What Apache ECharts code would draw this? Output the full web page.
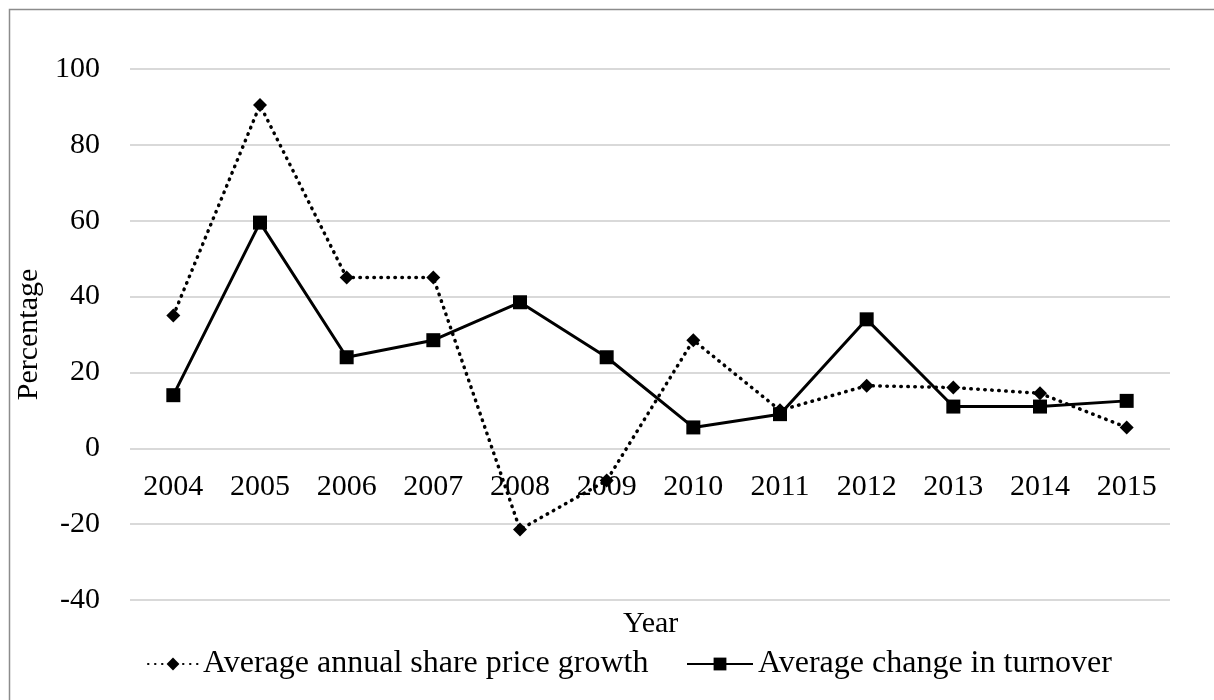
<!DOCTYPE html>
<html>
<head>
<meta charset="utf-8">
<script src="https://cdn.jsdelivr.net/npm/echarts@6/dist/echarts.min.js"></script>
<style>
  html, body { margin: 0; padding: 0; background: #fff; }
  #chart { width: 1214px; height: 700px; }
</style>
</head>
<body>
<div id="chart"></div>
<script>
// Years on the category axis
const years = ['2004', '2005', '2006', '2007', '2008', '2009', '2010', '2011', '2012', '2013', '2014', '2015'];
// Average annual share price growth (%)
const sharePriceGrowth = [35, 90.5, 45, 45, -21.4, -8.5, 28.5, 10, 16.5, 16, 14.5, 5.5];
// Average change in turnover (%)
const turnoverChange = [14, 59.5, 24, 28.5, 38.5, 24, 5.5, 9, 34, 11, 11, 12.5];
// Value axis ticks
const yTicks = [-40, -20, 0, 20, 40, 60, 80, 100];

const SHARE = 'Average annual share price growth';
const TURNOVER = 'Average change in turnover';
const FONT = '"Liberation Serif", "Times New Roman", serif';
const DOTTED = [0.5, 6.5];
const GRID = { left: 130, right: 44, top: 69, bottom: 100 };
const chart = echarts.init(document.getElementById('chart'));

const legendText = { fontFamily: FONT, fontSize: 32, color: '#000' };

chart.setOption({
  animation: false,
  backgroundColor: '#fff',
  textStyle: { fontFamily: FONT, color: '#000' },
  grid: GRID,
  xAxis: {
    type: 'category',
    data: years,
    boundaryGap: true,
    axisLine: { show: false },
    axisTick: { show: false },
    axisLabel: { fontFamily: FONT, fontSize: 30, color: '#000', margin: 24 }
  },
  yAxis: {
    type: 'value',
    min: yTicks[0],
    max: yTicks[yTicks.length - 1],
    interval: 20,
    name: 'Percentage',
    nameLocation: 'middle',
    nameRotate: 90,
    nameGap: 72,
    nameTextStyle: { fontFamily: FONT, fontSize: 30, color: '#000' },
    axisLine: { show: false },
    axisTick: { show: false },
    axisLabel: { fontFamily: FONT, fontSize: 30, color: '#000', margin: 30 },
    splitLine: { lineStyle: { color: '#d9d9d9', width: 2 } }
  },
  legend: [
    {
      left: 142,
      bottom: 15,
      itemWidth: 50,
      itemHeight: 16,
      textStyle: legendText,
      data: [SHARE]
    },
    {
      left: 681,
      bottom: 15,
      itemWidth: 66,
      itemHeight: 16,
      textStyle: legendText,
      data: [TURNOVER]
    }
  ],
  graphic: [
    {
      type: 'text',
      left: 623,
      top: 609,
      style: { text: 'Year', font: '30px ' + FONT, fill: '#000' }
    },
    {
      type: 'rect',
      shape: { x: 9.5, y: 9.5, width: 1230, height: 720 },
      style: { fill: 'none', stroke: '#8c8c8c', lineWidth: 1.5 },
      silent: true
    }
  ],
  series: [
    {
      name: SHARE,
      type: 'line',
      data: sharePriceGrowth,
      symbol: 'diamond',
      symbolSize: 14,
      itemStyle: { color: '#000' },
      lineStyle: { color: '#000', width: 3.5, type: DOTTED, cap: 'round' },
      z: 2
    },
    {
      name: TURNOVER,
      type: 'line',
      data: turnoverChange,
      symbol: 'rect',
      symbolSize: 14,
      itemStyle: { color: '#000' },
      lineStyle: { color: '#000', width: 3, type: 'solid' },
      z: 3
    }
  ]
});

// Year labels sit just under the zero line: move the category axis up to y = 0
const zeroY = chart.convertToPixel({ yAxisIndex: 0 }, 0);
const bottomY = 700 - GRID.bottom;
chart.setOption({ xAxis: { offset: -(bottomY - zeroY) } });
</script>
</body>
</html>
